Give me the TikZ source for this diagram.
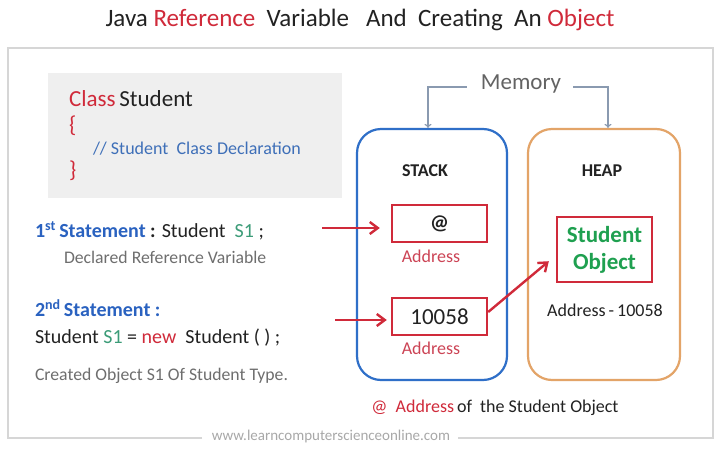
\documentclass[tikz,border=0pt]{standalone}
\usepackage{fontspec}
\setmainfont{Carlito}
\usetikzlibrary{arrows.meta}
\definecolor{cred}{HTML}{D02A3A}
\definecolor{addr}{HTML}{CC4455}
\definecolor{cblue}{HTML}{2F6FC8}
\definecolor{sblue}{HTML}{2A62C0}
\definecolor{cmt}{HTML}{3E6FB8}
\definecolor{sgreen}{HTML}{3C9C78}
\definecolor{ogreen}{HTML}{1FA050}
\definecolor{corange}{HTML}{E3A468}
\definecolor{ctext}{HTML}{222222}
\definecolor{cgray}{HTML}{6E6E6E}
\definecolor{frame}{HTML}{D6D6D6}
\definecolor{boxfill}{HTML}{EFEFEF}
\definecolor{memline}{HTML}{8A9AB0}
\begin{document}
\begin{tikzpicture}[x=1pt,y=-1pt,
  txt/.style={inner sep=0pt, outer sep=0pt, text=ctext},
  membox/.style={draw, line width=2.2pt, rounded corners=24pt, minimum width=150pt, minimum height=251pt, inner sep=0pt},
  cell/.style={draw=cred, line width=2.4pt, minimum width=95pt, minimum height=37pt, inner sep=0pt, text=ctext},
  redarrow/.style={draw=cred, line width=2.4pt, -{Straight Barb[length=8pt,width=12pt]}},
  memarrow/.style={draw=memline, line width=1.2pt, -{To[length=4pt,width=7pt]}}
]
\useasboundingbox (0,0) rectangle (720,450);
\fill[white] (0,0) rectangle (720,450);

% title
\node[txt, font=\fontsize{25}{30}\selectfont] (title) at (360,20)
  {Java \textcolor{cred}{Reference}\ \ Variable\ \ \ And\ \ Creating\ \ An \textcolor{cred}{Object}};

% outer frame
\draw[frame, line width=1.2pt] (202,438) -- (8,438) -- (8,48) -- (713,48) -- (713,438) -- (458,438);
\node[txt, text=cgray!60, font=\fontsize{15}{17}\selectfont] (web) at (331,436) {www.learncomputerscienceonline.com};

% class box
\fill[boxfill] (48,73) rectangle (342,198);
\node[txt, anchor=west, font=\fontsize{23}{27}\selectfont] (cls) at (69,99) {\textcolor{cred}{Class}\,Student};
\node[txt, anchor=west, text=cred, font=\fontsize{23}{27}\selectfont] (ob) at (69,126) {\{};
\node[txt, anchor=west, text=cmt, font=\fontsize{18}{21}\selectfont] (cmt) at (93,149) {//\ Student\ \ Class Declaration};
\node[txt, anchor=west, text=cred, font=\fontsize{23}{27}\selectfont] (cb) at (69,171) {\}};

% statements
\node[txt, anchor=west, font=\fontsize{20}{24}\selectfont] (s1) at (35,231)
  {\textcolor{sblue}{\textbf{1\textsuperscript{st}\,Statement}}\textbf{ :} Student\ \ \textcolor{sgreen}{S1}\ ;};
\node[txt, anchor=west, text=cgray, font=\fontsize{17.7}{21}\selectfont] (s1d) at (64,257) {Declared Reference Variable};
\node[txt, anchor=west, font=\fontsize{20}{24}\selectfont] (s2) at (35,308)
  {\textcolor{sblue}{\textbf{2\textsuperscript{nd}\,Statement :}}};
\node[txt, anchor=west, font=\fontsize{20}{24}\selectfont] (s2c) at (35,338)
  {Student \textcolor{sgreen}{S1} = \textcolor{cred}{new}\ \ Student ( ) ;};
\node[txt, anchor=west, text=cgray, font=\fontsize{17.7}{21}\selectfont] (s2d) at (35,376) {Created Object S1 Of Student Type.};

% memory
\node[membox, draw=cblue] (stack) at (432,254.5) {};
\node[membox, draw=corange, minimum width=152pt] (heap) at (604,254.5) {};
\node[txt, text=cgray!90!black, font=\fontsize{23}{27}\selectfont] (mem) at (521,84) {Memory};
\draw[memarrow] ([xshift=-14pt,yshift=-3pt]mem.west) -| ([xshift=-4pt]stack.north);
\draw[memarrow] ([xshift=12pt,yshift=-3pt]mem.east) -| ([xshift=4pt]heap.north);

\node[txt, font=\bfseries\fontsize{18}{21}\selectfont] (stl) at (425,171) {STACK};
\node[txt, font=\bfseries\fontsize{18}{21}\selectfont] (hpl) at (602,171) {HEAP};

\node[cell, font=\bfseries\fontsize{21}{24}\selectfont] (at) at (439.5,223.5) {@};
\node[txt, text=addr, font=\fontsize{18}{21}\selectfont] (a1) at (431,256) {Address};
\node[cell, font=\fontsize{23}{26}\selectfont] (num) at (439.5,316.5) {10058};
\node[txt, text=addr, font=\fontsize{18}{21}\selectfont] (a2) at (431,348) {Address};

\node[cell, minimum height=65pt, text=ogreen, align=center, font=\bfseries\fontsize{23}{27}\selectfont] (obj) at (604.5,249.5) {Student\\Object};
\node[txt, font=\fontsize{18}{21}\selectfont] (oa) at (605,310) {Address\,-\,10058};

\node[txt, font=\fontsize{18}{21}\selectfont] (note) at (495,408)
  {\textcolor{cred}{@\ \ Address}\,of\ \ the Student Object};

% arrows
\coordinate (p1) at (322,228);
\coordinate (p2) at (335,320);
\draw[redarrow] (p1) -- ([xshift=-11pt,yshift=-4.5pt]at.west);
\draw[redarrow] (p2) -- ([xshift=-4pt,yshift=-3.5pt]num.west);
\draw[redarrow] ([yshift=4.5pt]num.east) -- ([xshift=-7pt,yshift=22pt]obj.south west);
\end{tikzpicture}
\end{document}
